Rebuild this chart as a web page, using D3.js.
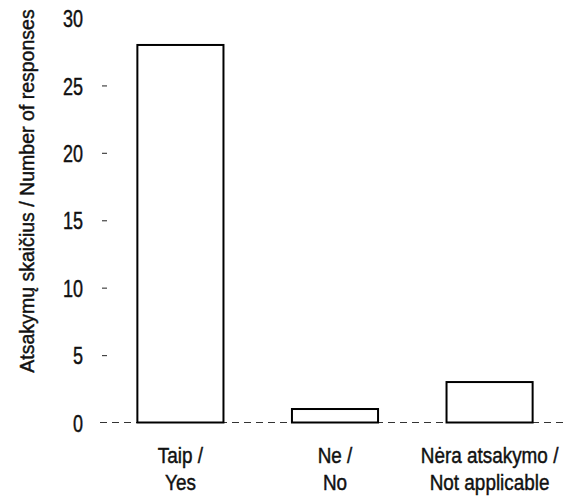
<!DOCTYPE html>
<html>
<head>
<meta charset="utf-8">
<script src="https://cdn.jsdelivr.net/npm/d3@7"></script>
<style>
  body { margin: 0; background: #fff; }
  text { font-family: "Liberation Sans", Arial, sans-serif; fill: #111; stroke: #111; stroke-width: 0.45px; }
</style>
</head>
<body>
<svg width="577" height="496"></svg>
<script>
const categories = [["Taip /", "Yes"], ["Ne /", "No"], ["Nėra atsakymo /", "Not applicable"]];
const responses = [28, 1, 3];
const yTicks = [0, 5, 10, 15, 20, 25, 30];

const svg = d3.select("svg");

const x = d3.scaleBand()
  .domain(categories.map((d, i) => i))
  .range([91, 579])
  .paddingInner(0.443)
  .paddingOuter(0.3);

const y = d3.scaleLinear().domain([0, 30]).range([422.5, 18]);

// y tick labels and little tick marks
const tickSqueeze = 0.75;
const yAxis = svg.append("g").attr("transform", "translate(102,0)")
  .call(d3.axisLeft(y).tickValues(yTicks).tickSize(-5).tickPadding(19));
yAxis.select(".domain").remove();
yAxis.selectAll(".tick line").attr("stroke", "#444").attr("stroke-width", 1.2);
yAxis.selectAll(".tick").filter(d => d === 0 || d === 30).select("line").remove();
yAxis.selectAll("text")
  .style("font-size", "24px")
  .attr("dy", "0.36em")
  .attr("fill", "#111")
  .attr("x", -19 / tickSqueeze)
  .attr("transform", `scale(${tickSqueeze},1)`);

// y axis title (narrow typeface imitated with a horizontal squeeze)
svg.append("text")
  .attr("transform", "translate(34,191) rotate(-90) scale(0.93,1)")
  .attr("text-anchor", "middle")
  .style("font-size", "21px")
  .text("Atsakymų skaičius / Number of responses");

// dashed baseline
svg.append("line")
  .attr("x1", 100).attr("x2", 566)
  .attr("y1", y(0)).attr("y2", y(0))
  .attr("stroke", "#333").attr("stroke-width", 1)
  .attr("stroke-dasharray", "7,5");

// bars
svg.selectAll(".bar")
  .data(responses)
  .enter()
  .append("rect")
  .attr("class", "bar")
  .attr("x", (d, i) => x(i))
  .attr("y", d => y(d))
  .attr("width", x.bandwidth())
  .attr("height", d => y(0) - y(d))
  .attr("fill", "#fff")
  .attr("stroke", "#000")
  .attr("stroke-width", 2);

// category labels
const labels = svg.selectAll(".cat")
  .data(categories)
  .enter()
  .append("text")
  .attr("class", "cat")
  .attr("text-anchor", "middle")
  .attr("transform", (d, i) => `translate(${x(i) + x.bandwidth() / 2},0) scale(0.86,1)`)
  .style("font-size", "22px");

labels.each(function(d) {
  const t = d3.select(this);
  d.forEach((line, j) => {
    t.append("tspan")
      .attr("x", 0)
      .attr("y", 463 + j * 27)
      .text(line);
  });
});
</script>
</body>
</html>
